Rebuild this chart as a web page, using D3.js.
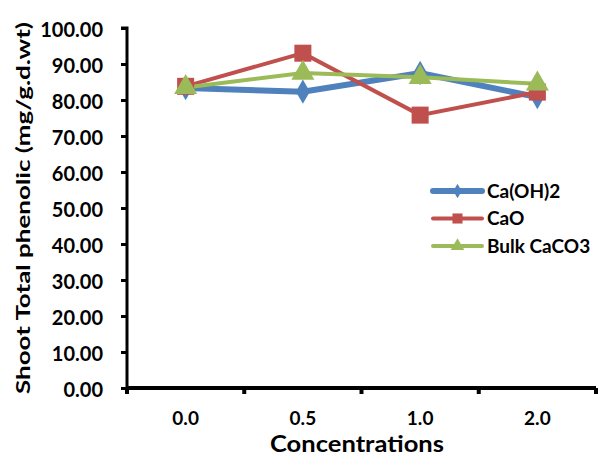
<!DOCTYPE html>
<html><head><meta charset="utf-8">
<script src="https://cdn.jsdelivr.net/npm/d3@7"></script>
<style>body{margin:0;background:#fff}svg{display:block}text{font-family:Lato,"Open Sans",sans-serif;font-weight:bold}</style>
</head><body>
<svg id="c" width="605" height="458"></svg>
<script>
const categories = ["0.0","0.5","1.0","2.0"];
const caOH2 = [83.3, 82.3, 87.5, 80.8];
const caO = [83.8, 93.0, 75.8, 82.2];
const bulkCaCO3 = [83.5, 87.5, 86.3, 84.5];
const yTicks = [0,10,20,30,40,50,60,70,80,90,100];
const seriesNames = ["Ca(OH)2","CaO","Bulk CaCO3"];
const colors = ["#4F81BD","#C0504D","#9BBB59"];

const svg = d3.select("#c");
const x = d3.scaleBand().domain(categories).range([127,596]);
const y = d3.scaleLinear().domain([0,100]).range([388,28]);

// y axis
const ya = svg.append("g").attr("transform","translate(127,0)")
  .call(d3.axisLeft(y).tickValues(yTicks).tickFormat(d3.format(".2f")).tickSize(6).tickPadding(18));
ya.select(".domain").attr("stroke","#000").attr("stroke-width",3).attr("d","M-6,28H0V388");
ya.selectAll(".tick line").attr("stroke-width",3);
ya.selectAll(".tick text").attr("font-size",20).attr("fill","#000").attr("dy","0.4em")
  .style("font-family","Lato, sans-serif").style("font-weight","bold");

// x axis
const xa = svg.append("g").attr("transform","translate(0,388)")
  .call(d3.axisBottom(x).tickSize(0).tickPadding(24));
xa.select(".domain").attr("stroke","#000").attr("stroke-width",4).attr("d","M127,0H596");
xa.selectAll(".tick text").attr("font-size",19).attr("fill","#000")
  .style("font-family","Lato, sans-serif").style("font-weight","bold");
const bounds = categories.map(c => x(c)).concat([x.range()[1]]);
xa.selectAll(".bt").data(bounds).enter().append("line").attr("class","bt")
  .attr("x1",d=>d).attr("x2",d=>d).attr("y1",0).attr("y2",6).attr("stroke","#000").attr("stroke-width",4);

svg.append("text").attr("x",357).attr("y",452).attr("text-anchor","middle").attr("font-size",22)
  .attr("textLength",174).attr("lengthAdjust","spacingAndGlyphs").text("Concentrations");
svg.append("text").attr("transform","translate(30,208) rotate(-90)").attr("text-anchor","middle").attr("font-size",19)
  .attr("textLength",372).attr("lengthAdjust","spacingAndGlyphs").text("Shoot Total phenolic  (mg/g.d.wt)");

const cx = c => x(c) + x.bandwidth()/2;
const data = [caOH2, caO, bulkCaCO3];
const widths = [6,4,4];
const line = d3.line().x((d,i)=>cx(categories[i])).y(d=>y(d));
const sym = [d3.symbolDiamond, d3.symbolSquare, d3.symbolTriangle];
const sizes = [170, 290, 230];
data.forEach((s,k)=>{
  svg.append("path").datum(s).attr("d",line).attr("fill","none").attr("stroke",colors[k]).attr("stroke-width",widths[k]);
});
data.forEach((s,k)=>{
  svg.append("g").selectAll("path").data(s).enter().append("path")
    .attr("transform",(d,i)=>`translate(${cx(categories[i])},${y(d)})`)
    .attr("d",d3.symbol().type(sym[k]).size(sizes[k])).attr("fill",colors[k]);
});

// legend
const lg = svg.append("g");
seriesNames.forEach((n,k)=>{
  const yy = 191 + k*27.5;
  lg.append("line").attr("x1",433).attr("x2",482).attr("y1",yy).attr("y2",yy).attr("stroke",colors[k]).attr("stroke-width",widths[k]).attr("stroke-linecap","round");
  lg.append("path").attr("transform",`translate(457.5,${yy})`).attr("d",d3.symbol().type(sym[k]).size(sizes[k]*0.35)).attr("fill",colors[k]);
  lg.append("text").attr("x",487).attr("y",yy).attr("dy","0.36em").attr("font-size",19).text(n);
});
</script>
</body></html>
